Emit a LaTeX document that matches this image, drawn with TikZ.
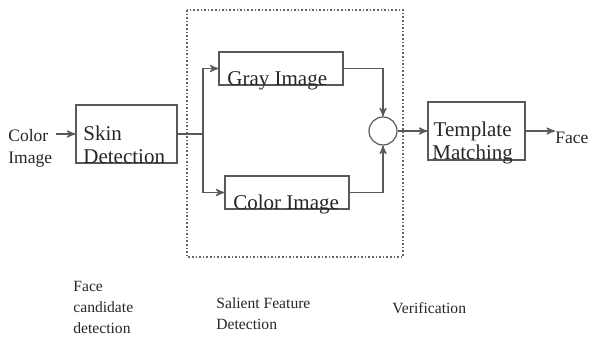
\documentclass[tikz,border=0pt]{standalone}
\usepackage{fontspec}
\setmainfont{Liberation Serif}
\usepackage{xcolor}
\usepackage{tikz}
\usetikzlibrary{arrows,shapes,backgrounds}

\begin{document}
\begin{tikzpicture}[x=0.5pt, y=-0.5pt, ->, >=stealth']

	\tikzstyle{block}=[draw=black!65, line width=0.6pt, inner sep=0pt]
	\tikzstyle{line}=[draw=black!65, line width=0.6pt]
	\tikzstyle{big}=[font=\fontsize{10.5}{11.5}\selectfont, text=black!85, inner sep=0pt]
	\tikzstyle{small}=[font=\fontsize{8.75}{11}\selectfont, text=black!85, inner sep=0pt]
	\tikzstyle{caption}=[font=\fontsize{7.8}{10.5}\selectfont, text=black!85, inner sep=0pt]

	\useasboundingbox (0,0) rectangle (589,338);

	% salient feature frame
	\draw[-, densely dotted, draw=black!60, line width=0.8pt] (187,10) rectangle (403,257);

	% boxes
	\node[block, minimum width=50.5pt, minimum height=29pt] (skin) at (126.5,134) {};
	\node[block, minimum width=62pt, minimum height=16.5pt] (gray) at (281,68.5) {};
	\node[block, minimum width=62pt, minimum height=16.5pt] (colorbox) at (287,192.5) {};
	\node[block, circle, minimum size=14pt] (sum) at (383,131) {};
	\node[block, minimum width=48.5pt, minimum height=29pt] (tmpl) at (476.5,131) {};

	% texts in the boxes
	\node[big, anchor=north west, align=left] (skintxt) at (83,126) {Skin\\Detection};
	\node[big, anchor=base west] (graytxt) at (227,85) {Gray Image};
	\node[big, anchor=base west] (colortxt) at (233,209) {Color Image};
	\node[big, anchor=north west, align=center] (tmpltxt) at (432,122) {Template\\Matching};

	% input and output
	\node[small, anchor=north west, align=left] (input) at (8,129) {Color\\Image};
	\node[small, anchor=west] (face) at (555,138) {Face};

	% stage names
	\node[caption, anchor=north west, align=left] (cand) at (73,281) {Face\\candidate\\detection};
	\node[caption, anchor=north west, align=left] (salient) at (216,297) {Salient Feature\\Detection};
	\node[caption, anchor=north west] (verif) at (392,302) {Verification};

	% From the input
	\path[line] ([xshift=1.5pt]input.east |- skin.west) -- (skin.west);

	% From skin detection to both images
	\coordinate (split) at (203,134);
	\path[line,-] (skin.east) -- (split);
	\path[line] (split) |- (gray.west);
	\path[line] (split) |- (colorbox.west);

	% From both images to the sum
	\path[line] (gray.east) -| (sum.north);
	\path[line] (colorbox.east) -| (sum.south);

	% From the sum
	\path[line] (sum.east) -- (tmpl.west);
	\path[line] (tmpl.east) -- (tmpl.east -| face.west);

\end{tikzpicture}
\end{document}
